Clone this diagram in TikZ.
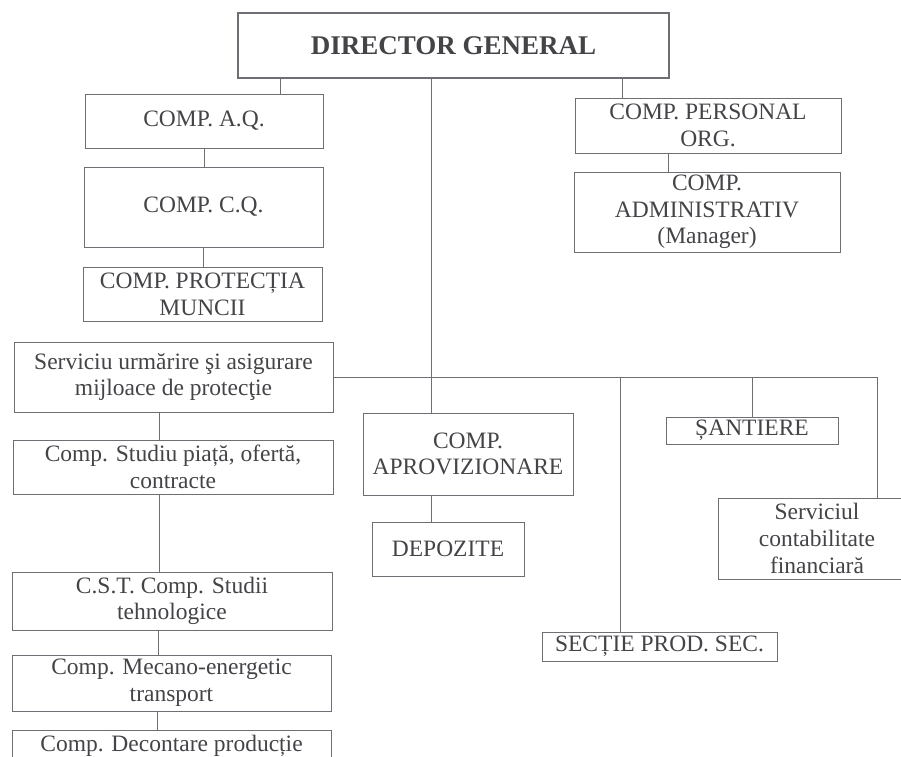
\documentclass[tikz,border=0pt]{standalone}
\usepackage{fontspec}
\setmainfont{Liberation Serif}
\usepackage{tikz}
\usetikzlibrary{positioning,calc}
\definecolor{orgline}{RGB}{110,110,116}
\definecolor{orgtext}{RGB}{68,68,72}
\tikzset{
  obox/.style={draw=orgline, line width=0.9pt, inner sep=0pt, align=center,
               text=orgtext, font=\fontsize{23.5}{26.7}\selectfont},
  dbox/.style={obox, line width=1.4pt, font=\fontsize{27}{30}\selectfont\bfseries},
  link/.style={orgline, line width=0.9pt},
}
\begin{document}
\begin{tikzpicture}[x=1pt,y=-1pt]
  \useasboundingbox (0,0) rectangle (901,756);
  \clip (0,0) rectangle (901,756);
  % top
  \node[dbox, minimum width=431, minimum height=65] (dg) at (453.5,45.5) {DIRECTOR GENERAL};
  % left column, upper part
  \node[obox, minimum width=238, minimum height=54] (aq) at (204,121) {COMP. A.Q.};
  \node[obox, minimum width=239, minimum height=80] (cq) at (203.5,207) {COMP. C.Q.};
  \node[obox, minimum width=239, minimum height=54] (pm) at (202.5,294) {COMP. PROTECȚIA\\MUNCII};
  % right, upper part
  \node[obox, minimum width=266, minimum height=55] (pers) at (708,125.5) {COMP. PERSONAL\\ORG.};
  \node[obox, minimum width=266, minimum height=80] (adm) at (707,212) {COMP.\\ADMINISTRATIV\\(Manager)};
  % left column, lower part
  \node[obox, minimum width=319, minimum height=70] (sup) at (173.5,377) {Serviciu urmărire şi asigurare\\mijloace de protecţie};
  \node[obox, minimum width=320, minimum height=54] (stud) at (173,467) {Comp. Studiu piață, ofertă,\\contracte};
  \node[obox, minimum width=320, minimum height=58] (cst) at (172,601) {C.S.T. Comp. Studii\\tehnologice};
  \node[obox, minimum width=319, minimum height=56] (mec) at (171.5,683) {Comp. Mecano-energetic\\transport};
  \node[obox, minimum width=319, minimum height=30, anchor=north] (dec) at (171.5,730) {Comp. Decontare producție};
  % middle and right, lower part
  \node[obox, minimum width=210, minimum height=82] (apr) at (468,454) {COMP.\\APROVIZIONARE};
  \node[obox, minimum width=152, minimum height=54] (dep) at (448,549) {DEPOZITE};
  \node[obox, minimum width=172, minimum height=27] (sant) at (752,430.5) {ȘANTIERE};
  \node[obox, minimum width=198, minimum height=81] (cf) at (817,538.5) {Serviciul\\contabilitate\\financiară};
  \node[obox, minimum width=235, minimum height=29] (sec) at (659.5,646.5) {SECȚIE PROD. SEC.};

  % links
  \coordinate (tk) at (431,377);
  \coordinate (hs) at (620,377);
  \coordinate (hr) at (877,377);
  \coordinate (ja) at ([xshift=43pt]dg.south west);
  \coordinate (jp) at ([xshift=-47pt]dg.south east);
  \draw[link] (ja) -- (ja |- aq.north);
  \draw[link] (aq.south) -- (aq.south |- cq.north);
  \draw[link] (cq.south) -- (cq.south |- pm.north);
  \draw[link] (jp) -- (jp |- pers.north);
  \draw[link] ([xshift=-40pt]pers.south) -- ([xshift=-40pt]pers.south |- adm.north);
  \draw[link] (dg.south -| tk) -- (apr.north -| tk);
  \draw[link] (apr.south -| tk) -- (dep.north -| tk);
  \draw[link] (sup.east) -- (hr) -- (hr |- cf.north);
  \draw[link] (hs) -- (hs |- sec.north);
  \draw[link] (sant.north |- hr) -- (sant.north);
  \draw[link] ([xshift=-14pt]sup.south) -- ([xshift=-14pt]sup.south |- stud.north);
  \draw[link] ([xshift=-14pt]stud.south) -- ([xshift=-14pt]stud.south |- cst.north);
  \draw[link] ([xshift=-14pt]cst.south) -- ([xshift=-14pt]cst.south |- mec.north);
  \draw[link] ([xshift=-14pt]mec.south) -- ([xshift=-14pt]mec.south |- dec.north);
\end{tikzpicture}
\end{document}
